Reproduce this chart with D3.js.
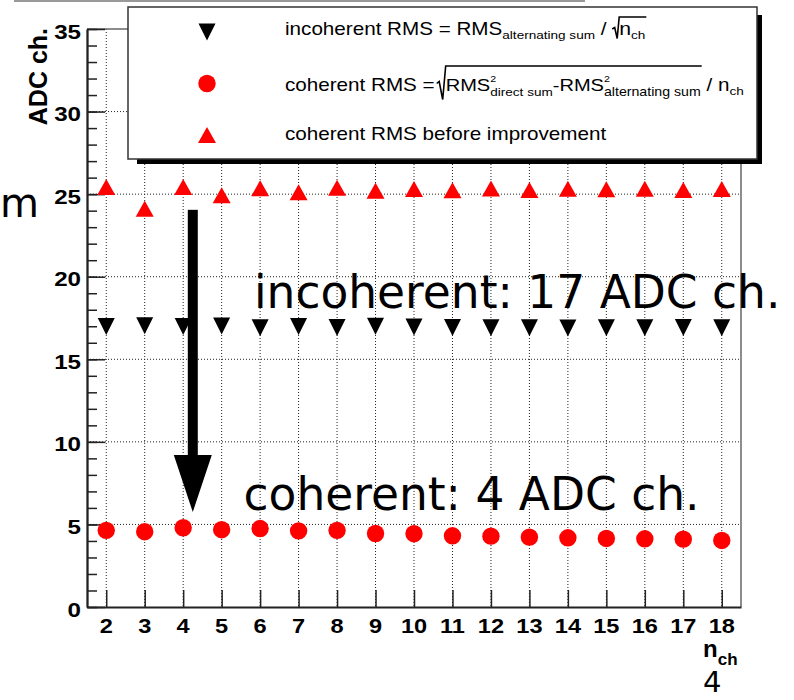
<!DOCTYPE html>
<html><head><meta charset="utf-8">
<script src="https://cdn.jsdelivr.net/npm/d3@7"></script>
<style>body{margin:0;background:#fff}svg{display:block}text{white-space:pre}</style>
</head><body>
<svg id="c" width="794" height="700"></svg>
<script>
// ---------- data ----------
const nch = [2,3,4,5,6,7,8,9,10,11,12,13,14,15,16,17,18];
const incoherentRMS = [16.98,17.03,16.98,17.02,16.91,16.98,16.93,17.00,16.95,16.93,16.91,16.91,16.90,16.91,16.91,16.92,16.91];
const coherentRMS   = [4.64,4.56,4.80,4.68,4.75,4.61,4.64,4.45,4.44,4.31,4.29,4.23,4.19,4.15,4.13,4.11,4.03];
const beforeRMS     = [25.43,24.12,25.43,24.93,25.35,25.12,25.39,25.20,25.31,25.24,25.34,25.25,25.33,25.29,25.32,25.25,25.31];
const yTicks = [0,5,10,15,20,25,30,35];
const yMinorTicks = [0,1,2,3,4,5,6,7,8,9,10,11,12,13,14,15,16,17,18,19,20,21,22,23,24,25,26,27,28,29,30,31,32,33,34,35];
const xTicks = nch;
const yTitle = "ADC ch.";
const incoherentNote = "incoherent: 17 ADC ch.";
const coherentNote = "coherent: 4 ADC ch.";

// ---------- setup ----------
const svg = d3.select("#c");
const L = 87, R = 741, T = 29, B = 607;
const x = d3.scaleLinear().domain([1.5, 18.5]).range([L, R]);
const y = d3.scaleLinear().domain([0, 35]).range([B, T]);
const F = "'Liberation Sans', Arial, Helvetica, sans-serif";
const DV = "'DejaVu Sans', sans-serif";

// stray top line (slide edge)
svg.append("line").attr("x1", 14).attr("x2", 585).attr("y1", 1).attr("y2", 1)
  .attr("stroke", "#999").attr("stroke-width", 2);

// ---------- grid ----------
const gv = svg.append("g").attr("stroke", "#222").attr("stroke-width", 1).attr("stroke-dasharray", "1,2");
gv.selectAll("line").data(xTicks).join("line")
  .attr("x1", d => x(d)).attr("x2", d => x(d)).attr("y1", T).attr("y2", B);
const gh = svg.append("g").attr("stroke", "#222").attr("stroke-width", 1).attr("stroke-dasharray", "1,2");
gh.selectAll("line").data(yTicks.filter(d => d > 0 && d < 35)).join("line")
  .attr("x1", L).attr("x2", R).attr("y1", d => y(d)).attr("y2", d => y(d));

// ---------- frame ----------
svg.append("line").attr("x1", R).attr("x2", R).attr("y1", T).attr("y2", B).attr("stroke", "#666").attr("stroke-width", 1.5);
svg.append("line").attr("x1", L).attr("x2", R).attr("y1", T).attr("y2", T).attr("stroke", "#666").attr("stroke-width", 1.5);

// ---------- axes ----------
const axMinor = svg.append("g").attr("transform", `translate(${L},0)`)
  .call(d3.axisLeft(y).tickValues(yMinorTicks).tickSize(-10).tickSizeOuter(0).tickFormat(""));
const axMajor = svg.append("g").attr("transform", `translate(${L},0)`)
  .call(d3.axisLeft(y).tickValues(yTicks).tickSize(-18).tickSizeOuter(0).tickFormat(""));
const axX = svg.append("g").attr("transform", `translate(0,${B})`)
  .call(d3.axisBottom(x).tickValues(xTicks).tickSize(-17).tickSizeOuter(0).tickFormat(""));
[axMinor, axMajor, axX].forEach(a => {
  a.selectAll("line").attr("stroke", "#222").attr("stroke-width", 1.5);
  a.select(".domain").attr("stroke", "#222").attr("stroke-width", 1.8);
});

// tick labels
svg.append("g").selectAll("text").data(yTicks).join("text")
  .attr("transform", d => `translate(81,${y(d) + 9.5}) scale(1.15,1)`)
  .attr("text-anchor", "end").attr("font-family", F).attr("font-weight", "bold").attr("font-size", 21)
  .attr("fill", "#000").text(d => d);
svg.append("g").selectAll("text").data(xTicks).join("text")
  .attr("transform", d => `translate(${x(d)},633) scale(1.15,1)`)
  .attr("text-anchor", "middle").attr("font-family", F).attr("font-weight", "bold").attr("font-size", 20.5)
  .attr("fill", "#000").text(d => d);

// axis titles
svg.append("text").attr("transform", "translate(47,28) scale(1.05,1) rotate(-90)")
  .attr("text-anchor", "end").attr("font-family", F).attr("font-weight", "bold").attr("font-size", 25)
  .text(yTitle);
const nt = svg.append("text").attr("x", 703).attr("y", 657).attr("font-family", F).attr("font-weight", "bold").attr("font-size", 24);
nt.append("tspan").text("n");
nt.append("tspan").attr("font-size", 17).attr("dy", 8).text("ch");

// ---------- data markers ----------
const up = (cx, cy) => `M${cx - 9},${cy + 8}L${cx + 9},${cy + 8}L${cx},${cy - 8}Z`;
const down = (cx, cy) => `M${cx - 8.5},${cy - 8.5}L${cx + 8.5},${cy - 8.5}L${cx},${cy + 8.5}Z`;
svg.append("g").selectAll("path").data(nch).join("path")
  .attr("d", (d, i) => up(x(d), y(beforeRMS[i]))).attr("fill", "#ff0000");
svg.append("g").selectAll("path").data(nch).join("path")
  .attr("d", (d, i) => down(x(d), y(incoherentRMS[i]))).attr("fill", "#000");
svg.append("g").selectAll("circle").data(nch).join("circle")
  .attr("cx", d => x(d)).attr("cy", (d, i) => y(coherentRMS[i])).attr("r", 8.7).attr("fill", "#ff0000");

// ---------- arrow annotation ----------
const arrowX = 4.25, arrowTop = 24.05, arrowHead = 9.2, arrowTip = 5.75;
svg.append("rect").attr("x", x(arrowX) - 5).attr("width", 10)
  .attr("y", y(arrowTop)).attr("height", y(arrowHead) - y(arrowTop) + 1).attr("fill", "#000");
svg.append("path").attr("d",
  `M${x(arrowX) - 19},${y(arrowHead)}L${x(arrowX) + 19},${y(arrowHead)}L${x(arrowX)},${y(arrowTip)}Z`)
  .attr("fill", "#000");

// ---------- legend ----------
const lg = svg.append("g");
lg.append("rect").attr("x", 137).attr("y", 15).attr("width", 625).attr("height", 149).attr("fill", "#000");
lg.append("rect").attr("x", 128).attr("y", 7).attr("width", 629).attr("height", 152)
  .attr("fill", "#fff").attr("stroke", "#333").attr("stroke-width", 1.5);
lg.append("path").attr("d", down(207, 32)).attr("fill", "#000");
lg.append("circle").attr("cx", 207).attr("cy", 83.5).attr("r", 8.7).attr("fill", "#ff0000");
lg.append("path").attr("d", up(207, 135)).attr("fill", "#ff0000");

const SX = 1.18;
function rich(g, x0, base, runs) {
  let cx = x0;
  const marks = {};
  runs.forEach(r => {
    if (r.mark) { marks[r.mark] = cx; return; }
    if (r.gap) { cx += r.gap; return; }
    const t = g.append("text")
      .attr("transform", `translate(${cx},${base + (r.dy || 0)}) scale(${SX},1)`)
      .attr("font-family", F).attr("font-size", r.s).attr("fill", "#000").text(r.t);
    const w = t.node().getComputedTextLength() * SX;
    if (!r.stack) cx += w;
  });
  marks.end = cx;
  return marks;
}
// row 1
const b1 = 35;
const m1 = rich(lg, 285, b1, [
  {t: "incoherent RMS = RMS", s: 17.5},
  {t: "alternating sum", s: 11.5, dy: 4},
  {t: "\u00a0/\u00a0", s: 17.5},
  {mark: "r"}, {gap: 7},
  {t: "n", s: 18},
  {t: "ch", s: 11.5, dy: 4},
  {mark: "e"}
]);
lg.append("path").attr("fill", "none").attr("stroke", "#000").attr("stroke-width", 1.6)
  .attr("d", `M${m1.r},${b1 - 6}L${m1.r + 2.5},${b1 - 7.5}L${m1.r + 5},${b1 + 3.5}L${m1.r + 7},${b1 - 18}L${m1.e + 1},${b1 - 18}`);
// row 2
const b2 = 90.5;
const m2 = rich(lg, 285, b2, [
  {t: "coherent RMS =", s: 17.5},
  {gap: 2}, {mark: "r"}, {gap: 9},
  {t: "RMS", s: 17},
  {t: "2", s: 9, dy: -9, stack: true},
  {t: "direct sum", s: 11.5, dy: 5},
  {t: "-RMS", s: 17},
  {t: "2", s: 9, dy: -9, stack: true},
  {t: "alternating sum", s: 12, dy: 5},
  {mark: "e"},
  {t: "\u00a0/ n", s: 17.5},
  {t: "ch", s: 11.5, dy: 4}
]);
lg.append("path").attr("fill", "none").attr("stroke", "#000").attr("stroke-width", 1.6)
  .attr("d", `M${m2.r},${b2 - 7}L${m2.r + 2.5},${b2 - 9}L${m2.r + 6},${b2 + 9}L${m2.r + 9},${b2 - 24.5}L${m2.e + 1},${b2 - 24.5}`);
// row 3
rich(lg, 285, 140, [{t: "coherent RMS before improvement", s: 17.5}]);

// ---------- big overlay texts ----------
svg.append("text").attr("x", x(5.84)).attr("y", y(18.11)).attr("font-family", DV).attr("font-size", 45.5)
  .attr("fill", "#000").text(incoherentNote);
svg.append("text").attr("x", x(5.57)).attr("y", y(5.875)).attr("font-family", DV).attr("font-size", 45.5)
  .attr("fill", "#000").text(coherentNote);
svg.append("text").attr("x", 0).attr("y", 217).attr("font-family", DV).attr("font-size", 40)
  .attr("fill", "#000").text("m");
svg.append("text").attr("x", 703).attr("y", 692).attr("font-family", DV).attr("font-size", 29)
  .attr("fill", "#000").text("4");
</script>
</body></html>
